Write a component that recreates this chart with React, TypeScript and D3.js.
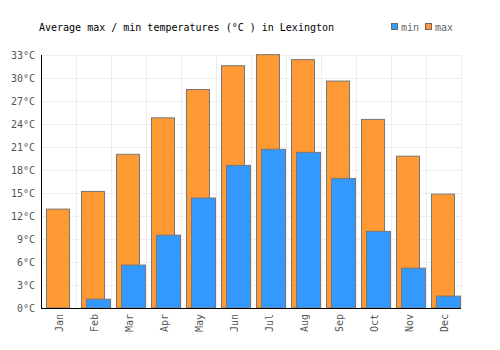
import * as d3 from 'd3';
import React, { useEffect, useRef } from 'react';

const months = ['Jan', 'Feb', 'Mar', 'Apr', 'May', 'Jun', 'Jul', 'Aug', 'Sep', 'Oct', 'Nov', 'Dec'];
const maxTemps = [12.9, 15.2, 20.05, 24.8, 28.5, 31.6, 33.05, 32.4, 29.6, 24.6, 19.8, 14.85];
const minTemps = [-0.3, 1.15, 5.6, 9.5, 14.35, 18.6, 20.7, 20.3, 16.9, 10.0, 5.2, 1.55];
const yTicks = [0, 3, 6, 9, 12, 15, 18, 21, 24, 27, 30, 33];

const W = 500;
const H = 350;
const margin = { top: 55, right: 39, bottom: 42, left: 41 };
const font = '"DejaVu Sans Mono", monospace';

const App = () => {
  const ref = useRef<SVGSVGElement>(null);

  useEffect(() => {
    const svg = d3.select(ref.current);
    svg.selectAll('*').remove();

    const x = d3.scaleBand().domain(months).range([margin.left, W - margin.right]);
    const y = d3.scaleLinear().domain([0, 33]).range([H - margin.bottom, margin.top]);

    // grid
    svg.append('g').selectAll('line').data(yTicks.slice(1)).join('line')
      .attr('x1', margin.left).attr('x2', W - margin.right)
      .attr('y1', d => Math.round(y(d)) + 0.5).attr('y2', d => Math.round(y(d)) + 0.5)
      .attr('stroke', '#eeeeee');
    svg.append('g').selectAll('line').data(months.slice(1).concat(['end'])).join('line')
      .attr('x1', (d, i) => Math.round(margin.left + (i + 1) * x.bandwidth()) + 0.5)
      .attr('x2', (d, i) => Math.round(margin.left + (i + 1) * x.bandwidth()) + 0.5)
      .attr('y1', margin.top).attr('y2', H - margin.bottom)
      .attr('stroke', '#eeeeee');

    const bw = 23;
    // max bars
    svg.append('g').selectAll('rect').data(maxTemps).join('rect')
      .attr('x', (d, i) => Math.round(x(months[i])! + 5) + 0.5)
      .attr('y', d => y(d))
      .attr('width', bw)
      .attr('height', d => Math.max(0, y(0) - y(d)))
      .attr('fill', '#ff9933')
      .attr('stroke', '#777777');
    // min bars
    svg.append('g').selectAll('rect').data(minTemps).join('rect')
      .attr('x', (d, i) => Math.round(x(months[i])! + 10) + 0.5)
      .attr('y', d => y(Math.max(0, d)))
      .attr('width', bw + 1)
      .attr('height', d => Math.max(0, y(0) - y(Math.max(0, d))))
      .attr('fill', '#3399ff')
      .attr('stroke', '#777777');

    // axes
    svg.append('line')
      .attr('x1', margin.left + 0.5).attr('x2', margin.left + 0.5)
      .attr('y1', margin.top).attr('y2', H - margin.bottom + 1)
      .attr('stroke', '#000');
    svg.append('line')
      .attr('x1', margin.left).attr('x2', W - margin.right)
      .attr('y1', y(0) + 0.5).attr('y2', y(0) + 0.5)
      .attr('stroke', '#000');

    svg.append('g').selectAll('text').data(yTicks).join('text')
      .attr('x', margin.left - 6)
      .attr('y', d => y(d) + 4)
      .attr('text-anchor', 'end')
      .attr('fill', '#555')
      .style('font-family', font)
      .style('font-size', '10px')
      .text(d => `${d}°C`);

    svg.append('g').selectAll('text').data(months).join('text')
      .attr('transform', d => `translate(${x(d)! + x.bandwidth() / 2 + 4},${H - margin.bottom + 6}) rotate(-90)`)
      .attr('text-anchor', 'end')
      .attr('fill', '#555')
      .style('font-family', font)
      .style('font-size', '10px')
      .text(d => d);

    svg.append('text')
      .attr('x', 39).attr('y', 31)
      .style('font-family', font)
      .style('font-size', '10px')
      .attr('fill', '#000')
      .text('Average max / min temperatures (°C ) in Lexington');

    const legend = [{ name: 'min', color: '#3399ff', x: 391 }, { name: 'max', color: '#ff9933', x: 425 }];
    const lg = svg.append('g').selectAll('g').data(legend).join('g')
      .attr('transform', d => `translate(${d.x},0)`);
    lg.append('rect').attr('x', 0.5).attr('y', 23.5).attr('width', 6).attr('height', 6)
      .attr('fill', d => d.color).attr('stroke', '#666');
    lg.append('text').attr('x', 10).attr('y', 31)
      .attr('fill', '#666')
      .style('font-family', font)
      .style('font-size', '10px')
      .text(d => d.name);
  }, []);

  return <svg ref={ref} width={W} height={H} style={{ display: 'block', position: 'absolute', left: 0, top: 0, background: '#fff' }} />;
};

export default App;
